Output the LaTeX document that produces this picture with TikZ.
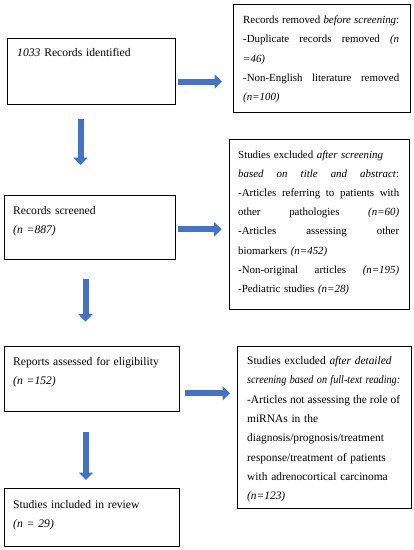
\documentclass[tikz,border=0pt]{standalone}
\usepackage{graphicx}
\usepackage{fontspec}
\setmainfont{Liberation Serif}
\usetikzlibrary{arrows.meta}
\definecolor{arrowfill}{HTML}{4472C4}
\definecolor{arrowline}{HTML}{2F528F}
\newcommand\jl[1]{{\spaceskip=0pt\xspaceskip=0pt\makebox[\linewidth][s]{#1}}}
\begin{document}
\begin{tikzpicture}[x=1pt,y=-1pt,
  box/.style={draw=black, line width=1pt, inner sep=0pt, anchor=north west},
  ltxt/.style={anchor=base west, inner sep=0pt, align=left, text width=160pt, font=\fontsize{11.6}{19.3}\selectfont},
  rtxt/.style={anchor=base west, inner sep=0pt, align=left},
  blk/.style={draw=arrowfill, line width=6pt, -{Triangle[width=14pt,length=7.5pt]}}
]
\useasboundingbox[fill=white] (0,0) rectangle (414,550);

% left boxes
\node[box, minimum width=168pt, minimum height=66pt] (b1) at (7,38) {};
\node[box, minimum width=171pt, minimum height=64pt] (b2) at (4,195) {};
\node[box, minimum width=175pt, minimum height=65pt] (b3) at (4,346) {};
\node[box, minimum width=175pt, minimum height=58pt] (b4) at (4,488) {};

% right boxes
\node[box, minimum width=177pt, minimum height=108pt] (r1) at (233,4) {};
\node[box, minimum width=180pt, minimum height=170pt] (r2) at (229,139) {};
\node[box, minimum width=174pt, minimum height=162pt] (r3) at (237,346) {};

% left texts
\node[ltxt] (t1) at (17,56.5) {\textit{1033} Records identified};
\node[ltxt] (t2) at (13,214) {Records screened\\ \textit{(n =887)}};
\node[ltxt] (t3) at (13,365) {Reports assessed for eligibility\\ \textit{(n =152)}};
\node[ltxt] (t4) at (13,508.5) {Studies included in review\\ \textit{(n = 29)}};

% right texts
\node[rtxt, text width=156pt, font=\fontsize{10.9}{19.3}\selectfont] (u1) at (243,23.5) {%
\jl{Records removed \textit{before screening}:}\\
\jl{-Duplicate records removed \textit{(n}}\\
\textit{=46)}\\
\jl{-Non-English literature removed}\\
\textit{(n=100)}};

\node[rtxt, text width=161pt, font=\fontsize{10.9}{19.1}\selectfont] (u2) at (238,158.5) {%
Studies excluded \textit{after screening}\\
\jl{\textit{based on title and abstract}:}\\
\jl{-Articles referring to patients with}\\
\jl{other pathologies \textit{(n=60)}}\\
\jl{-Articles assessing other}\\
biomarkers \textit{(n=452)}\\
\jl{-Non-original articles \textit{(n=195)}}\\
-Pediatric studies \textit{(n=28)}};

\node[rtxt, text width=153pt, font=\fontsize{11.4}{19.3}\selectfont] (u3) at (247,364.5) {%
Studies excluded \textit{after detailed}\\
\resizebox{\linewidth}{\height}{\textit{screening based on full-text reading:}}\\
\jl{-Articles not assessing the role of}\\
miRNAs in the\\
diagnosis/prognosis/treatment\\
response/treatment of patients\\
with adrenocortical carcinoma\\
\textit{(n=123)}};

% arrows
\coordinate (ra1s) at (178,81.5);   \coordinate (ra1e) at (222,81.5);
\coordinate (ra2s) at (178.3,229.3); \coordinate (ra2e) at (221.7,229.3);
\coordinate (ra3s) at (185,393.3);  \coordinate (ra3e) at (230,393.3);
\coordinate (da1s) at (80.5,119);   \coordinate (da1e) at (80.5,165);
\coordinate (da2s) at (85.5,279);   \coordinate (da2e) at (85.5,321.7);
\coordinate (da3s) at (86,432);     \coordinate (da3e) at (86,480);
\draw[blk] (ra1s) -- (ra1e);
\draw[blk] (ra2s) -- (ra2e);
\draw[blk] (ra3s) -- (ra3e);
\draw[blk] (da1s) -- (da1e);
\draw[blk] (da2s) -- (da2e);
\draw[blk] (da3s) -- (da3e);
\end{tikzpicture}
\end{document}
